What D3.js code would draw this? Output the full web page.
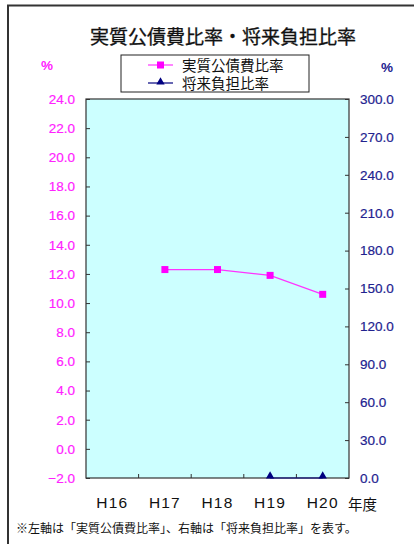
<!DOCTYPE html>
<html>
<head>
<meta charset="utf-8">
<script src="https://cdn.jsdelivr.net/npm/d3@7"></script>
<style>
body { margin: 0; background: #fff; }
text { font-family: "Liberation Sans", "Noto Sans CJK JP", sans-serif; }
</style>
</head>
<body>
<svg width="414" height="544"></svg>
<script>
// data
const years = ["H16", "H17", "H18", "H19", "H20"];
const kosaihi = [null, 12.3, 12.3, 11.9, 10.6];   // left axis
const shorai = [null, null, null, 0.0, 0.0];      // right axis
const leftTicks = [-2, 0, 2, 4, 6, 8, 10, 12, 14, 16, 18, 20, 22, 24];
const rightTicks = [0, 30, 60, 90, 120, 150, 180, 210, 240, 270, 300];

const svg = d3.select("svg");
const jp = "'Noto Sans CJK JP', sans-serif";

// outer frame (only top and left visible)
svg.append("path").attr("d", "M8,544 V5.5 H414")
    .attr("fill", "none").attr("stroke", "#333").attr("stroke-width", 2);

const pL = 86, pR = 349, pT = 99, pB = 478;

const x = d3.scaleBand().domain(years).range([pL, pR]);
const yL = d3.scaleLinear().domain([-2, 24]).range([pB, pT]);
const yR = d3.scaleLinear().domain([0, 300]).range([pB, pT]);

svg.append("rect")
    .attr("x", pL).attr("y", pT)
    .attr("width", pR - pL).attr("height", pB - pT)
    .attr("fill", "#ccffff").attr("stroke", "#333").attr("stroke-width", 1.2);

// left axis
const gl = svg.append("g").attr("transform", "translate(" + pL + ",0)")
    .call(d3.axisLeft(yL).tickValues(leftTicks).tickFormat(d3.format(".1f"))
        .tickSizeInner(-4).tickSizeOuter(0).tickPadding(11));
gl.select(".domain").remove();
gl.selectAll("line").attr("stroke", "#333");
gl.selectAll("text").attr("fill", "#ff22ff").attr("font-size", 13.5)
    .attr("stroke", "#ff22ff").attr("stroke-width", 0.2)
    .text(d => d < 0 ? "\u2212" + Math.abs(d).toFixed(1) : d.toFixed(1));

// right axis
const gr = svg.append("g").attr("transform", "translate(" + pR + ",0)")
    .call(d3.axisRight(yR).tickValues(rightTicks).tickFormat(d3.format(".1f"))
        .tickSizeInner(-4).tickSizeOuter(0).tickPadding(11));
gr.select(".domain").remove();
gr.selectAll("line").attr("stroke", "#333");
gr.selectAll("text").attr("fill", "#22228f").attr("font-size", 13.5)
    .attr("stroke", "#22228f").attr("stroke-width", 0.2);

// x axis: ticks on band boundaries
svg.append("g").selectAll("line")
    .data(years.slice(1)).enter()
    .append("line")
    .attr("x1", d => x(d)).attr("x2", d => x(d))
    .attr("y1", pB).attr("y2", pB - 4)
    .attr("stroke", "#333");
svg.append("g").selectAll("text")
    .data(years).enter()
    .append("text")
    .attr("x", d => x(d) + x.bandwidth() / 2)
    .attr("y", 508)
    .attr("text-anchor", "middle")
    .attr("font-size", 15.5)
    .attr("letter-spacing", 1.2)
    .attr("fill", "#111")
    .text(d => d);
svg.append("text").attr("x", 348).attr("y", 510)
    .attr("font-size", 14.5).attr("font-family", jp).attr("fill", "#111").text("年度");

// series 1
const p1 = years.map((d, i) => [d, kosaihi[i]]).filter(d => d[1] != null);
svg.append("path").datum(p1)
    .attr("fill", "none").attr("stroke", "#ff33ff").attr("stroke-width", 1.2)
    .attr("d", d3.line().x(d => x(d[0]) + x.bandwidth() / 2).y(d => yL(d[1])));
svg.append("g").selectAll("rect")
    .data(p1).enter()
    .append("rect")
    .attr("x", d => x(d[0]) + x.bandwidth() / 2 - 3.5)
    .attr("y", d => yL(d[1]) - 3.5)
    .attr("width", 7).attr("height", 7)
    .attr("fill", "#ff00ff");

// series 2
const p2 = years.map((d, i) => [d, shorai[i]]).filter(d => d[1] != null);
svg.append("path").datum(p2)
    .attr("fill", "none").attr("stroke", "#000080").attr("stroke-width", 1.2)
    .attr("d", d3.line().x(d => x(d[0]) + x.bandwidth() / 2).y(d => yR(d[1])));
const tri = d3.symbol().type(d3.symbolTriangle).size(30);
svg.append("g").selectAll("path")
    .data(p2).enter()
    .append("path")
    .attr("d", tri)
    .attr("transform", d => "translate(" + (x(d[0]) + x.bandwidth() / 2) + "," + (yR(d[1]) - 2) + ")")
    .attr("fill", "#000080");

// title
svg.append("text").attr("x", 223).attr("y", 44)
    .attr("text-anchor", "middle").attr("font-size", 19)
    .attr("font-family", jp).attr("fill", "#111")
    .attr("stroke", "#111").attr("stroke-width", 0.3)
    .text("実質公債費比率・将来負担比率");

// unit labels
svg.append("text").attr("x", 47).attr("y", 70).attr("text-anchor", "middle")
    .attr("font-size", 13.5).attr("font-weight", "bold").attr("fill", "#ff22ff").text("%");
svg.append("text").attr("x", 387).attr("y", 72).attr("text-anchor", "middle")
    .attr("font-size", 13.5).attr("font-weight", "bold").attr("fill", "#22228f").text("%");

// legend
const lg = svg.append("g");
lg.append("rect").attr("x", 121).attr("y", 55).attr("width", 188).attr("height", 37)
    .attr("fill", "#fff").attr("stroke", "#222").attr("stroke-width", 1);
const leg = [
    { name: "実質公債費比率", color: "#ff33ff", y: 65, mark: "rect" },
    { name: "将来負担比率", color: "#000080", y: 83, mark: "tri" }
];
leg.forEach(l => {
    lg.append("line").attr("x1", 148).attr("x2", 173).attr("y1", l.y).attr("y2", l.y)
        .attr("stroke", l.color).attr("stroke-width", 1.2);
    if (l.mark === "rect") {
        lg.append("rect").attr("x", 157).attr("y", l.y - 3.5).attr("width", 7).attr("height", 7)
            .attr("fill", "#ff00ff");
    } else {
        lg.append("path").attr("d", tri).attr("transform", "translate(160.5," + (l.y - 1) + ")")
            .attr("fill", l.color);
    }
    lg.append("text").attr("x", 182).attr("y", l.y + 5.5)
        .attr("font-size", 14.5).attr("font-family", jp).attr("fill", "#111").text(l.name);
});

// note
svg.append("text").attr("x", 16).attr("y", 533)
    .attr("font-size", 12).attr("font-family", jp).attr("fill", "#111")
    .text("※左軸は「実質公債費比率」、右軸は「将来負担比率」を表す。");
</script>
</body>
</html>
